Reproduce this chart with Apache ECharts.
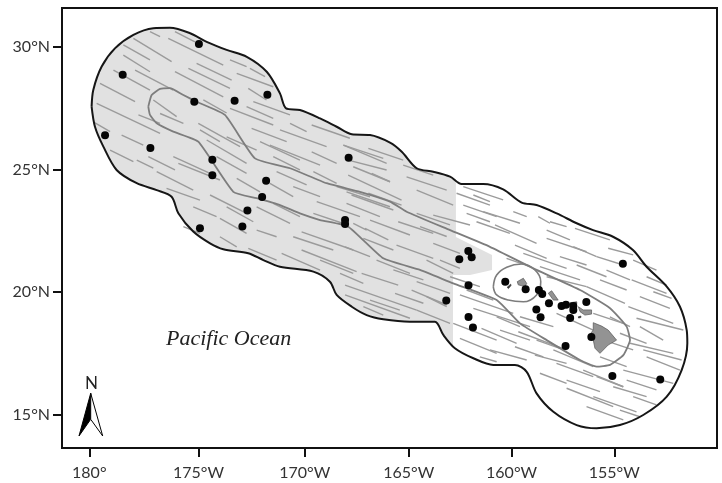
<!DOCTYPE html>
<html><head><meta charset="utf-8">
<style>html,body{margin:0;padding:0;background:#fff}#c{width:722px;height:483px}</style>
<script src="https://cdn.jsdelivr.net/npm/echarts@6/dist/echarts.min.js"></script>
</head><body><div id="c"></div>
<script>
const lonTicks=[-180,-174.8,-169.74,-164.79,-159.89,-155];
const lonLabels=['180°','175°W','170°W','165°W','160°W','155°W'];
const latTicks=[15,20,25,30];
const latLabels=['15°N','20°N','25°N','30°N'];

const outerNorth=[[-179.89,27.56],[-179.81,28.24],[-179.41,29.19],[-178.78,29.93],[-177.90,30.48],[-176.95,30.75],[-176.16,30.77],[-175.20,30.55],[-174.41,30.20],[-173.46,29.87],[-172.50,29.59],[-171.55,28.98],[-170.92,28.10],[-170.63,27.49],[-169.97,27.42],[-169.01,27.08],[-168.22,26.74],[-167.50,26.43],[-166.63,26.40],[-165.68,26.09],[-165.12,25.72],[-164.41,25.05],[-163.62,24.91],[-162.82,24.71]];
const outerEast=[[-162.27,24.41],[-161.24,24.41],[-160.29,24.19],[-159.41,23.65],[-158.70,23.55],[-157.74,23.21],[-156.79,22.81],[-156.01,22.53],[-155.06,22.26],[-154.11,21.72],[-153.46,21.04],[-152.50,20.23],[-151.87,19.41],[-151.55,18.46],[-151.52,17.92],[-151.79,16.83],[-152.50,15.75],[-153.62,15.00],[-154.73,14.59],[-155.84,14.46],[-156.79,14.59],[-157.90,15.13],[-158.70,15.88],[-159.17,16.76],[-159.73,17.04],[-160.76,17.04],[-161.71,17.31],[-162.59,17.72]];
const outerSouth=[[-163.14,18.26],[-163.54,18.80],[-164.73,18.80],[-166.00,18.90],[-166.79,19.07],[-167.50,19.41],[-168.22,19.89],[-168.54,20.43],[-169.33,20.84],[-170.92,21.04],[-171.71,21.31],[-172.43,21.59],[-173.62,21.75],[-174.25,21.99],[-175.05,22.47],[-175.76,23.22],[-176.08,23.89],[-176.79,24.16],[-177.74,24.44],[-178.70,24.98],[-179.33,25.93],[-179.73,26.74],[-179.89,27.56]];
const shadeEdge=[[-162.54,24.57],[-162.54,22.25],[-160.82,21.52],[-160.82,20.91],[-161.87,20.70],[-162.68,20.70],[-162.68,17.74]];

const innerBand=[[-177.19,27.56],[-177.03,28.03],[-176.63,28.28],[-176.16,28.31],[-175.52,28.03],[-174.89,27.76],[-173.54,27.22],[-172.11,25.45],[-170.44,25.05],[-168.70,24.44],[-167.11,24.09],[-165.68,23.69],[-164.89,23.28],[-162.82,22.53],[-160.92,21.85],[-158.70,20.91],[-156.63,20.09],[-155.20,19.35],[-154.41,18.60],[-154.25,18.05],[-154.57,17.44],[-155.20,17.04],[-155.84,16.97],[-156.63,17.24],[-158.22,18.05],[-159.49,18.73],[-160.60,19.68],[-162.67,20.36],[-164.25,20.91],[-166.00,21.38],[-167.67,22.67],[-169.01,22.94],[-169.97,23.21],[-170.92,23.55],[-172.03,23.83],[-173.14,24.09],[-174.81,26.13],[-176.00,26.54],[-176.79,26.88],[-177.11,27.22],[-177.19,27.56]];
const innerRing=[[-160.76,20.22],[-160.60,20.70],[-160.12,21.02],[-159.41,21.15],[-158.78,20.91],[-158.50,20.43],[-158.70,19.89],[-159.33,19.61],[-160.05,19.68],[-160.60,19.89],[-160.76,20.22]];

const hawaii=[[-156.0,18.76],[-155.60,18.62],[-155.29,18.46],[-154.89,18.05],[-155.29,17.85],[-155.68,17.51],[-155.92,17.72],[-156.0,18.05],[-156.24,18.19],[-156.0,18.46]];
const maui=[[-156.71,19.41],[-156.48,19.28],[-156.08,19.28],[-156.08,19.11],[-156.40,19.07],[-156.63,19.21]];
const oahu=[[-158.14,19.96],[-157.98,20.06],[-157.67,19.68],[-157.90,19.68]];
const kauai=[[-159.62,20.43],[-159.33,20.57],[-159.17,20.36],[-159.25,20.23],[-159.57,20.30]];
const niihau=[[-160.10,20.20],[-159.93,20.33],[-159.92,20.27],[-160.04,20.15]];
const molokai=[[-157.11,19.57],[-156.79,19.61],[-156.78,19.54],[-157.11,19.50]];
const kahoolawe=[[-156.71,19.0],[-156.59,19.03],[-156.59,18.97],[-156.70,18.95]];

const sightings=[[-174.78,30.11],[-178.41,28.86],[-175.0,27.76],[-173.08,27.80],[-171.52,28.04],[-179.25,26.39],[-177.09,25.87],[-174.14,25.40],[-174.14,24.76],[-171.58,24.54],[-171.77,23.88],[-172.47,23.33],[-172.71,22.68],[-174.73,22.61],[-167.82,22.94],[-167.82,22.78],[-167.65,25.48],[-161.95,21.68],[-161.79,21.42],[-162.38,21.34],[-161.94,20.28],[-163.0,19.66],[-161.94,18.99],[-161.73,18.56],[-160.19,20.43],[-159.22,20.12],[-158.59,20.09],[-158.43,19.93],[-158.11,19.55],[-158.71,19.30],[-158.51,18.98],[-157.51,19.44],[-157.30,19.49],[-156.95,19.44],[-156.95,19.28],[-157.10,18.95],[-156.33,19.60],[-156.09,18.18],[-157.32,17.81],[-155.09,16.59],[-152.81,16.45],[-154.59,21.16]];

const trackWest=[[-175.92,30.61,-174.97,30.20],[-176.24,30.34,-173.62,29.25],[-177.90,30.34,-176.08,29.39],[-178.38,30.07,-177.11,29.46],[-178.38,29.66,-177.11,28.98],[-173.30,29.46,-172.51,29.19],[-172.35,29.12,-171.63,28.78],[-172.98,28.91,-171.24,28.37],[-175.28,29.12,-173.30,28.30],[-174.89,29.32,-173.22,28.64],[-175.92,28.98,-173.62,27.96],[-177.82,29.05,-176.00,28.23],[-178.85,29.05,-177.11,28.23],[-179.49,28.51,-177.82,27.76],[-179.65,27.69,-176.63,26.47],[-177.66,27.22,-176.63,26.88],[-179.81,26.94,-179.01,26.54],[-178.46,26.40,-177.43,25.99],[-179.01,25.79,-177.90,25.32],[-177.19,25.52,-175.92,24.98],[-176.79,24.91,-175.05,24.16],[-176.32,24.23,-174.73,23.75],[-176.00,25.52,-174.25,24.84],[-175.76,25.25,-173.78,24.57],[-174.81,26.88,-172.82,25.93],[-174.41,26.20,-172.51,25.25],[-176.95,27.83,-175.84,27.15],[-176.63,27.28,-175.52,26.88],[-173.94,25.52,-172.51,24.84],[-172.43,28.30,-171.56,27.83],[-172.19,27.76,-170.44,27.22],[-173.30,27.49,-171.24,26.81],[-172.27,26.67,-170.60,26.13],[-170.92,26.61,-168.70,25.93],[-170.44,26.88,-169.65,26.54],[-169.41,26.81,-167.59,26.27],[-171.87,26.13,-169.97,25.38],[-171.40,25.99,-169.01,25.18],[-169.41,25.72,-168.22,25.25],[-169.33,24.91,-168.22,24.43],[-167.90,25.99,-165.84,25.25],[-167.43,25.11,-165.68,24.50],[-169.17,23.69,-167.11,23.08],[-167.75,24.09,-165.68,23.48],[-174.25,23.96,-172.51,23.21],[-175.05,23.48,-173.94,23.08],[-172.03,23.48,-170.44,22.80],[-173.78,23.01,-172.51,22.40],[-170.29,22.26,-168.38,21.72],[-169.89,22.46,-167.43,21.72],[-171.40,24.43,-170.29,23.89],[-172.98,24.64,-171.87,24.09],[-175.52,22.67,-174.73,22.40],[-173.78,22.26,-172.98,21.85],[-172.03,22.53,-171.08,22.26],
[-177.11,30.61,-176.63,30.41],[-174.57,27.83,-173.46,27.30],[-172.51,27.56,-171.24,27.08],[-174.73,26.61,-173.78,26.13],[-173.46,26.33,-172.03,25.79],[-171.24,25.52,-169.97,24.98],[-170.29,24.30,-169.01,23.89],[-171.08,24.91,-169.65,24.37],[-177.74,25.38,-176.95,25.05],[-171.24,23.62,-169.97,23.08],[-173.46,23.48,-172.19,22.87],[-169.33,23.21,-167.90,22.80]];
const trackMiddle=[[-165.05,25.18,-163.62,24.77],[-164.89,24.70,-162.98,24.16],[-164.41,24.16,-162.67,23.55],[-166.71,25.86,-165.05,25.38],[-167.90,25.99,-166.0,25.45],[-167.67,25.38,-165.84,24.98],[-166.55,24.84,-165.68,24.50],[-167.67,24.77,-165.13,23.75],[-168.22,24.30,-166.63,23.89],[-167.51,23.96,-165.52,23.35],[-166.71,24.03,-165.13,23.55],[-167.75,23.62,-166.16,23.08],[-165.29,22.87,-163.62,22.40],[-163.62,23.14,-161.87,22.74],[-166.63,22.94,-164.73,22.33],[-166.87,22.60,-165.76,22.13],[-164.41,23.21,-162.82,22.74],[-165.37,21.92,-163.62,21.38],[-163.62,21.99,-162.35,21.58],[-163.94,21.31,-162.67,20.77],[-170.84,21.58,-169.01,20.90],[-169.89,21.72,-167.27,20.84],[-167.82,21.85,-166.63,21.45],[-166.95,22.19,-165.52,21.72],[-168.06,20.77,-166.95,20.36],[-167.03,20.77,-165.29,20.29],[-167.82,20.29,-164.41,19.27],[-167.82,19.89,-164.73,18.94],[-165.44,19.95,-164.09,19.55],[-164.41,20.43,-162.82,19.95],[-164.65,20.09,-162.98,19.48],[-164.41,19.27,-162.82,18.73],[-172.43,21.79,-171.08,21.31],[-161.71,23.96,-160.92,23.69],[-162.51,24.03,-160.92,23.55],[-162.03,23.21,-160.92,22.87],
[-169.01,21.31,-167.43,20.77],[-166.32,21.31,-164.73,20.77],[-165.52,20.91,-164.09,20.50],[-166.63,19.68,-165.21,19.27],[-166.95,19.41,-166.0,19.07],[-164.25,22.67,-162.98,22.27],[-163.30,21.31,-162.35,20.97],[-163.94,19.82,-162.98,19.41],[-167.43,22.80,-166.79,22.53]];
const trackEast=[[-162.19,24.30,-160.29,23.76],[-161.24,23.28,-159.49,22.81],[-159.81,23.28,-159.17,23.08],[-158.62,23.08,-158.06,22.81],[-158.06,22.87,-157.27,22.67],[-162.19,23.55,-160.60,23.08],[-161.56,22.87,-159.97,22.40],[-160.68,22.74,-158.70,21.99],[-156.87,22.60,-155.21,22.13],[-158.22,22.53,-157.11,22.13],[-158.22,22.19,-156.32,21.65],[-159.73,21.92,-158.22,21.38],[-159.33,21.58,-157.27,20.97],[-156.79,21.11,-155.37,20.63],[-157.59,21.45,-156.32,21.11],[-155.29,21.79,-154.10,21.52],[-155.37,20.90,-154.25,20.50],[-154.10,21.31,-152.99,20.90],[-154.17,20.50,-152.51,19.95],[-153.14,20.02,-152.27,19.75],[-153.78,19.82,-152.35,19.34],[-155.68,20.50,-154.41,20.09],[-156.32,20.23,-154.49,19.55],[-158.54,21.04,-156.63,20.50],[-158.22,20.63,-156.32,20.23],[-153.94,18.94,-151.71,18.46],[-154.33,19.41,-152.19,18.73],[-153.78,18.60,-152.67,18.05],[-154.25,17.92,-152.19,17.51],[-153.62,17.65,-151.79,17.24],[-154.57,16.83,-152.19,16.29],[-153.46,17.37,-151.87,16.83],[-162.35,19.89,-159.81,19.14],[-161.71,19.34,-159.01,18.60],[-162.67,18.73,-160.60,18.05],[-161.32,18.53,-159.65,17.92],[-162.35,18.12,-160.60,17.51],[-160.92,17.65,-159.17,17.24],[-161.40,17.37,-160.60,17.17],[-159.57,18.39,-157.27,17.65],[-159.73,17.78,-158.38,17.37],[-158.78,17.44,-157.27,17.10],[-157.90,17.65,-156.0,16.97],[-157.75,17.10,-156.0,16.56],[-157.27,16.42,-155.68,15.95],[-156.48,16.83,-154.57,16.15],[-156.0,15.75,-153.94,15.13],[-155.05,16.15,-153.46,15.75],[-157.27,16.09,-155.05,15.34],[-156.32,15.34,-154.57,14.80],[-154.41,16.42,-152.99,16.02],[-156.0,18.19,-154.10,17.65],[-155.21,19.00,-154.25,18.60],[-157.75,19.14,-156.0,18.46],[-162.82,20.63,-161.40,20.23],[-162.03,20.09,-160.76,19.68],[-160.13,21.38,-159.01,21.04],
[-156.95,21.86,-155.84,21.45],[-155.84,21.45,-154.57,21.11],[-153.46,20.63,-152.51,20.29],[-156.0,19.14,-154.57,18.73],[-154.73,18.33,-153.46,17.92],[-159.49,19.0,-157.90,18.60],[-160.60,19.0,-159.49,18.60],[-160.44,18.46,-159.01,18.05],[-158.70,18.05,-157.59,17.71],[-155.68,17.37,-154.41,16.97],[-155.84,16.56,-154.57,16.15],[-158.54,16.70,-157.27,16.29],[-154.10,15.75,-152.99,15.41],[-154.73,15.20,-153.78,14.93]];

const polygon=(pts,fill,stroke,width,z)=>({type:'custom',coordinateSystem:'cartesian2d',silent:true,z,clip:true,
  data:pts,encode:{x:0,y:1},
  renderItem:(p,api)=>p.dataIndex===0?{type:'polygon',shape:{points:pts.map(c=>api.coord(c))},style:{fill,stroke,lineWidth:width}}:null});
const path=(pts,color,width,z,smooth)=>({type:'line',data:pts,showSymbol:false,silent:true,z,smooth:smooth||0,lineStyle:{color,width,join:'round'}});

const chart=echarts.init(document.getElementById('c'),null,{renderer:'canvas'});
const allTracks=trackWest.concat(trackMiddle,trackEast).map(t=>({coords:[[t[0],t[1]],[t[2],t[3]]]}));
const axisText={color:'#333',fontFamily:'Lato',fontSize:16};
chart.setOption({
  animation:false,backgroundColor:'#fff',
  grid:{left:62,right:5,top:8,bottom:35,show:true,borderColor:'#111',borderWidth:2,backgroundColor:'transparent'},
  xAxis:{type:'value',min:-181.3,max:-150.107,splitLine:{show:false},
    axisLine:{show:true,lineStyle:{color:'#111',width:2}},
    axisTick:{show:true,length:9,customValues:lonTicks,lineStyle:{color:'#111',width:2}},
    axisLabel:{...axisText,margin:17,customValues:lonTicks,formatter:v=>lonLabels[lonTicks.indexOf(v)]}},
  yAxis:{type:'value',min:13.656,max:31.576,splitLine:{show:false},
    axisLine:{show:true,lineStyle:{color:'#111',width:2}},
    axisTick:{show:true,length:9,customValues:latTicks,lineStyle:{color:'#111',width:2}},
    axisLabel:{...axisText,margin:12,customValues:latTicks,formatter:v=>latLabels[latTicks.indexOf(v)]}},
  series:[
    polygon(outerNorth.concat(shadeEdge,outerSouth),'#e1e1e1','transparent',0,1),
    {type:'lines',coordinateSystem:'cartesian2d',silent:true,z:2,polyline:false,lineStyle:{color:'#9b9b9b',width:1.4,opacity:1,curveness:0},effect:{show:false},data:allTracks},
    path(outerNorth.concat(outerEast,outerSouth),'#161616',2,3,0.3),
    path(innerBand,'#7d7d7d',1.8,3,0.15),
    path(innerRing,'#7d7d7d',1.6,3,0.4),
    polygon(hawaii,'#939393','#555',0.7,4),
    polygon(maui,'#939393','#555',0.7,4),
    polygon(oahu,'#939393','#555',0.7,4),
    polygon(kauai,'#939393','#555',0.7,4),
    polygon(niihau,'#333','#333',0.7,4),
    polygon(molokai,'#555','#444',0.7,4),
    polygon(kahoolawe,'#333','#333',0.7,4),
    {type:'scatter',data:sightings,symbolSize:8,silent:true,z:5,itemStyle:{color:'#050505',opacity:1}}
  ],
  graphic:[
    {type:'text',left:166,top:328,style:{text:'Pacific Ocean',font:'italic 22px "Liberation Serif"',fill:'#222'}},
    {type:'text',left:85,top:375,style:{text:'N',font:'17px Lato',fill:'#222'}},
    {type:'polygon',shape:{points:[[90.7,393.3],[79,436],[90.7,419.3]]},style:{fill:'#000',stroke:'#000',lineWidth:1}},
    {type:'polygon',shape:{points:[[90.7,393.3],[102.7,436],[90.7,419.3]]},style:{fill:'#fff',stroke:'#000',lineWidth:1}}
  ]
});
</script></body></html>
